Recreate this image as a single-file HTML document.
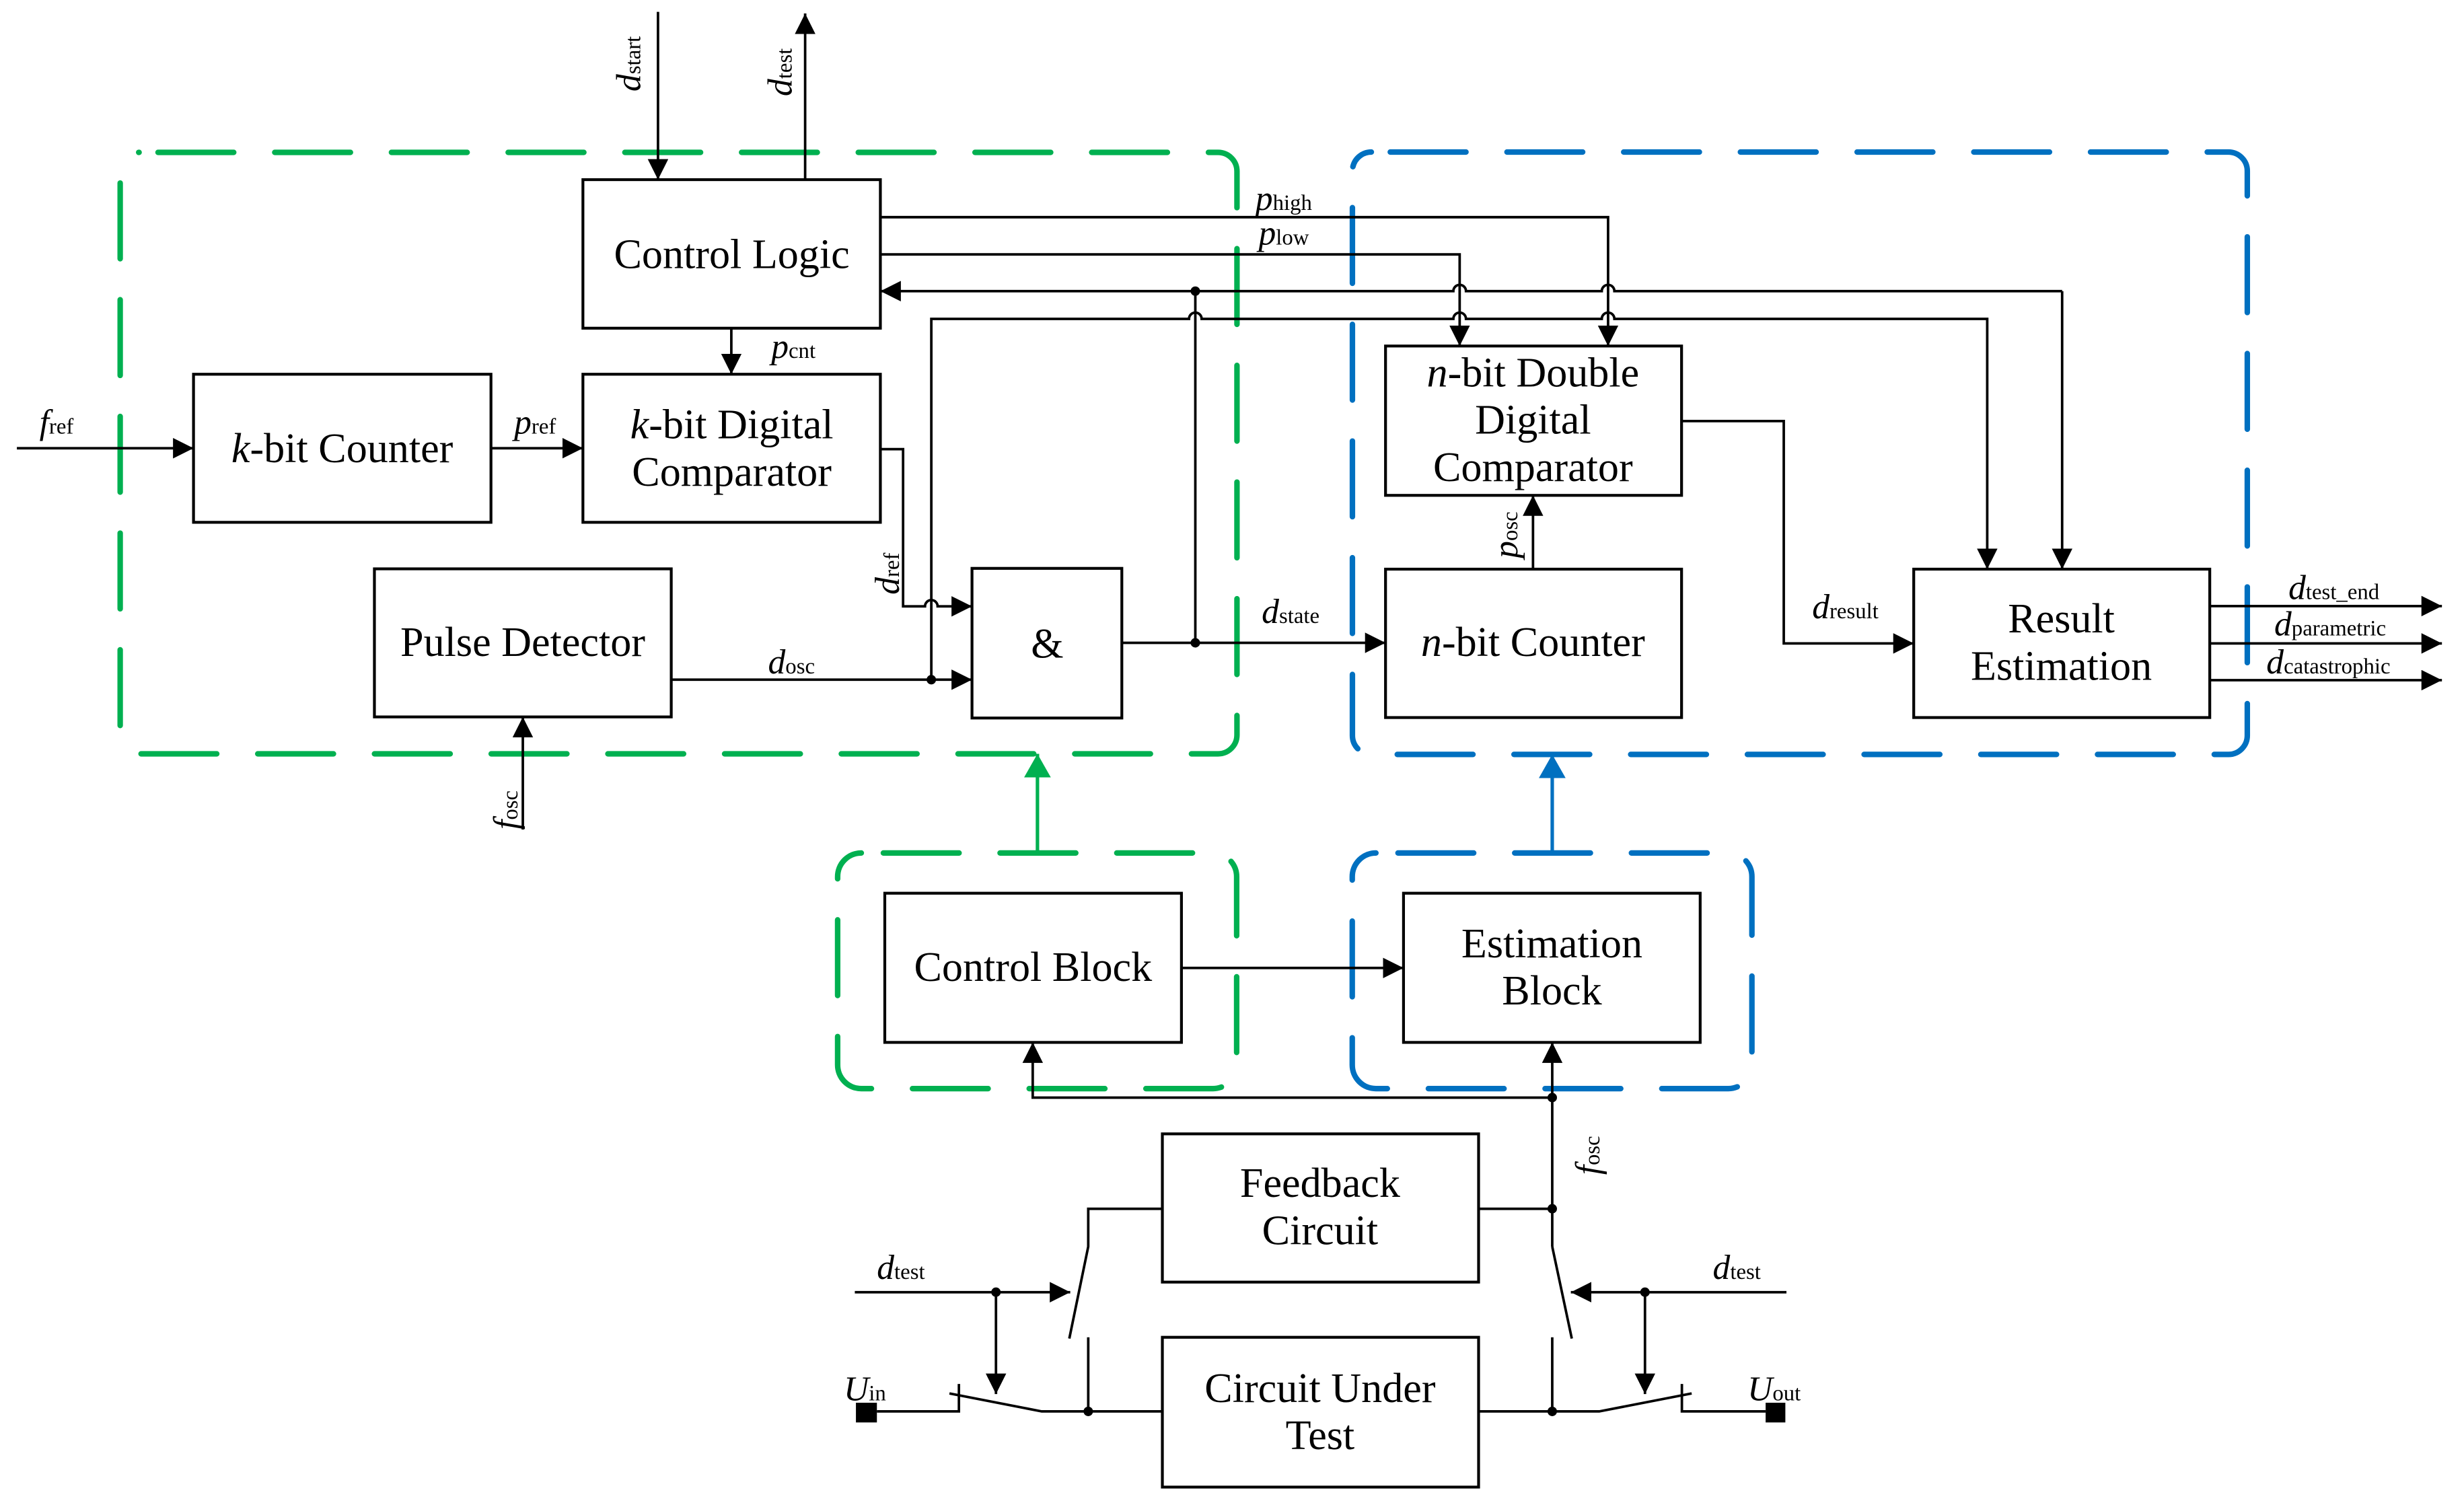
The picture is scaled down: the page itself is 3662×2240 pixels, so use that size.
<!DOCTYPE html>
<html><head><meta charset="utf-8"><style>
html,body{margin:0;padding:0;background:#fff;}
svg{display:block;}
text{font-family:"Liberation Serif",serif;fill:#000;}
.bt{font-size:26.5px;text-anchor:middle;}
.lb{font-size:22px;font-style:italic;}
.sb{font-size:14px;font-style:normal;}
</style></head><body>
<svg width="3662" height="2240" viewBox="0 0 1562.3 955.6" xmlns="http://www.w3.org/2000/svg">
<defs>
<marker id="a" markerUnits="userSpaceOnUse" markerWidth="14" markerHeight="14" refX="13" refY="6.5" orient="auto"><path d="M0,0 L13,6.5 L0,13 z" fill="#000"/></marker>
<marker id="g" markerUnits="userSpaceOnUse" markerWidth="16" markerHeight="18" refX="15" refY="8.5" orient="auto"><path d="M0,0 L15,8.5 L0,17 z" fill="#00b050"/></marker>
<marker id="b" markerUnits="userSpaceOnUse" markerWidth="16" markerHeight="18" refX="15" refY="8.5" orient="auto"><path d="M0,0 L15,8.5 L0,17 z" fill="#0070c0"/></marker>
</defs>
<g fill="none" stroke-width="3.5" stroke-dasharray="48 26" stroke-linecap="round">
<rect x="76.2" y="96.6" width="708.1" height="381.4" rx="12" stroke="#00b050" stroke-dashoffset="-12"/>
<rect x="857.5" y="96.4" width="567.4" height="382" rx="12" stroke="#0070c0" stroke-dashoffset="-12"/>
<rect x="531.1" y="540.9" width="253" height="149.4" rx="15" stroke="#00b050" stroke-dashoffset="-14"/>
<rect x="857.4" y="540.9" width="253.4" height="149.4" rx="15" stroke="#0070c0" stroke-dashoffset="-14"/>
</g>
<path d="M657.8 540.9 V478" stroke="#00b050" stroke-width="2.2" fill="none" marker-end="url(#g)"/>
<path d="M984.2 540.9 V478.4" stroke="#0070c0" stroke-width="2.2" fill="none" marker-end="url(#b)"/>
<g fill="#fff" stroke="#000" stroke-width="1.8">
<rect x="369.6" y="113.9" width="188.6" height="94.2"/>
<rect x="122.7" y="237.3" width="188.6" height="93.9"/>
<rect x="369.6" y="237.3" width="188.6" height="93.9"/>
<rect x="237.4" y="360.7" width="188.2" height="93.9"/>
<rect x="616.3" y="360.4" width="95" height="94.9"/>
<rect x="878.5" y="219.4" width="187.7" height="94.7"/>
<rect x="878.5" y="360.9" width="187.7" height="94.1"/>
<rect x="1213.4" y="360.9" width="187.7" height="94.1"/>
<rect x="561" y="566.4" width="188.1" height="94.6"/>
<rect x="889.9" y="566.4" width="188.1" height="94.6"/>
<rect x="737" y="719" width="200.5" height="94"/>
<rect x="737" y="848" width="200.5" height="95"/>
</g>
<g fill="none" stroke="#000" stroke-width="1.6">
<path d="M417.2 7.5 V113.9" marker-end="url(#a)"/>
<path d="M510.5 113.9 V8.5" marker-end="url(#a)"/>
<path d="M558.2 137.7 H1019.6 V219.4" marker-end="url(#a)"/>
<path d="M558.2 161.3 H925.5 V219.4" marker-end="url(#a)"/>
<path d="M1307.5 184.6 H1023.6 A4 4 0 0 0 1015.6 184.6 H929.5 A4 4 0 0 0 921.5 184.6 H558.2" marker-end="url(#a)"/>
<path d="M1307.5 184.6 V360.9" marker-end="url(#a)"/>
<path d="M590.5 431 V202.2 H753.9 A4 4 0 0 1 761.9 202.2 H921.5 A4 4 0 0 1 929.5 202.2 H1015.6 A4 4 0 0 1 1023.6 202.2 H1260 V360.9" marker-end="url(#a)"/>
<path d="M757.9 184.6 V407.6"/>
<path d="M558.2 284.8 H572.6 V384.5 H586.5 A4 4 0 0 1 594.5 384.5 H616.3" marker-end="url(#a)"/>
<path d="M425.6 431 H616.3" marker-end="url(#a)"/>
<path d="M711.3 407.6 H878.5" marker-end="url(#a)"/>
<path d="M10.7 284.2 H122.7" marker-end="url(#a)"/>
<path d="M311.3 284.2 H369.6" marker-end="url(#a)"/>
<path d="M463.7 208.1 V237.3" marker-end="url(#a)"/>
<path d="M331.5 526 V454.6" marker-end="url(#a)"/>
<path d="M972 360.9 V314.1" marker-end="url(#a)"/>
<path d="M1066.2 267 H1131 V408 H1213.4" marker-end="url(#a)"/>
<path d="M1401.1 384.3 H1548.3" marker-end="url(#a)"/>
<path d="M1401.1 408 H1548.3" marker-end="url(#a)"/>
<path d="M1401.1 431.3 H1548.3" marker-end="url(#a)"/>
<path d="M749.1 613.8 H889.9" marker-end="url(#a)"/>
<path d="M984.2 696 H654.8 V661" marker-end="url(#a)"/>
<path d="M984.2 790.5 V661" marker-end="url(#a)"/>
<path d="M737 766.5 H690 V790.5 L678 848.8"/>
<path d="M690 848 V895"/>
<path d="M937.5 766.5 H984.2"/>
<path d="M984.2 790.5 L996.6 848.8"/>
<path d="M984.2 848 V895"/>
<path d="M542 819.4 H678.6" marker-end="url(#a)"/>
<path d="M631.5 819.4 V884" marker-end="url(#a)"/>
<path d="M1132.7 819.4 H996" marker-end="url(#a)"/>
<path d="M1043 819.4 V884" marker-end="url(#a)"/>
<path d="M556 895 H608 V877.6"/>
<path d="M602 883.6 L660.5 895 H737"/>
<path d="M937.5 895 H1014 L1072.6 883.6"/>
<path d="M1066.4 877.6 V895 H1119.5"/>
</g>
<rect x="542.7" y="889.5" width="13.3" height="12.5" fill="#000"/>
<rect x="1119.5" y="889.5" width="12.5" height="12.5" fill="#000"/>
<g fill="#000">
<circle cx="757.9" cy="184.6" r="3"/><circle cx="757.9" cy="407.6" r="3"/>
<circle cx="590.5" cy="431" r="3"/><circle cx="984.2" cy="696" r="3"/>
<circle cx="984.2" cy="766.5" r="3"/><circle cx="984.2" cy="895" r="3"/>
<circle cx="690" cy="895" r="3"/><circle cx="631.5" cy="819.4" r="3"/>
<circle cx="1043" cy="819.4" r="3"/>
</g>
<text class="bt" x="464" y="170">Control Logic</text>
<text class="bt" x="217" y="293"><tspan font-style="italic">k</tspan>-bit Counter</text>
<text class="bt" x="464" y="278"><tspan font-style="italic">k</tspan>-bit Digital</text>
<text class="bt" x="464" y="308">Comparator</text>
<text class="bt" x="331.5" y="416">Pulse Detector</text>
<text class="bt" x="664" y="417">&amp;</text>
<text class="bt" x="972" y="245"><tspan font-style="italic">n</tspan>-bit Double</text>
<text class="bt" x="972" y="275">Digital</text>
<text class="bt" x="972" y="305">Comparator</text>
<text class="bt" x="972" y="416"><tspan font-style="italic">n</tspan>-bit Counter</text>
<text class="bt" x="1307" y="401">Result</text>
<text class="bt" x="1307" y="431">Estimation</text>
<text class="bt" x="655" y="622">Control Block</text>
<text class="bt" x="984" y="607">Estimation</text>
<text class="bt" x="984" y="637">Block</text>
<text class="bt" x="837" y="759">Feedback</text>
<text class="bt" x="837" y="789">Circuit</text>
<text class="bt" x="837" y="889">Circuit Under</text>
<text class="bt" x="837" y="919">Test</text>
<text class="lb" transform="translate(406,58) rotate(-90)">d<tspan class="sb">start</tspan></text>
<text class="lb" transform="translate(502,61) rotate(-90)">d<tspan class="sb">test</tspan></text>
<text class="lb" x="796" y="133">p<tspan class="sb">high</tspan></text>
<text class="lb" x="798" y="155">p<tspan class="sb">low</tspan></text>
<text class="lb" x="489" y="227">p<tspan class="sb">cnt</tspan></text>
<text class="lb" x="25" y="275">f<tspan class="sb">ref</tspan></text>
<text class="lb" x="326" y="275">p<tspan class="sb">ref</tspan></text>
<text class="lb" transform="translate(570,377) rotate(-90)">d<tspan class="sb">ref</tspan></text>
<text class="lb" x="487" y="427">d<tspan class="sb">osc</tspan></text>
<text class="lb" transform="translate(328,526) rotate(-90)">f<tspan class="sb">osc</tspan></text>
<text class="lb" x="800" y="395">d<tspan class="sb">state</tspan></text>
<text class="lb" transform="translate(962,354) rotate(-90)">p<tspan class="sb">osc</tspan></text>
<text class="lb" x="1149" y="392">d<tspan class="sb">result</tspan></text>
<text class="lb" x="1451" y="380">d<tspan class="sb">test_end</tspan></text>
<text class="lb" x="1442" y="403">d<tspan class="sb">parametric</tspan></text>
<text class="lb" x="1437" y="427">d<tspan class="sb">catastrophic</tspan></text>
<text class="lb" transform="translate(1014,745) rotate(-90)">f<tspan class="sb">osc</tspan></text>
<text class="lb" x="556" y="811">d<tspan class="sb">test</tspan></text>
<text class="lb" x="1086" y="811">d<tspan class="sb">test</tspan></text>
<text class="lb" x="535" y="888">U<tspan class="sb">in</tspan></text>
<text class="lb" x="1108" y="888">U<tspan class="sb">out</tspan></text>
</svg>
</body></html>
